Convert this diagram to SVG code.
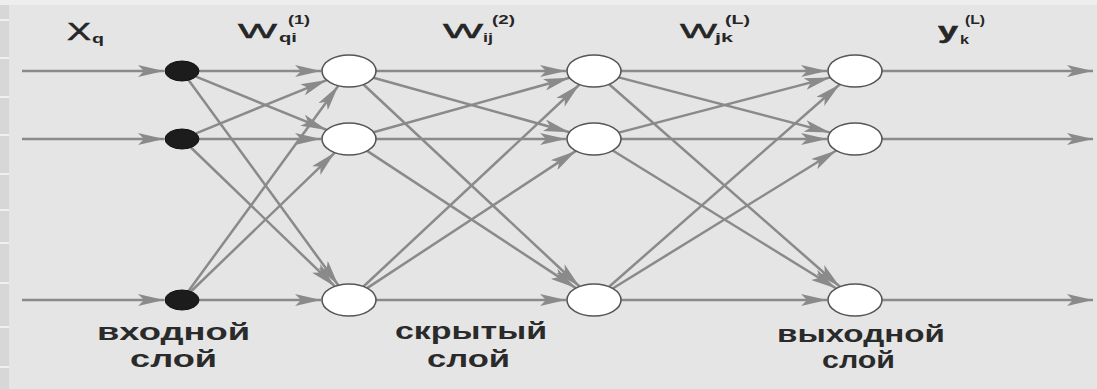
<svg xmlns="http://www.w3.org/2000/svg" width="1097" height="389" viewBox="0 0 1097 389">
  <style>
    .conn { stroke: #8a8a8a; stroke-width: 2.5; fill: none; marker-end: url(#arrow); }
    .inp { fill: #1c1c1c; stroke: #111; stroke-width: 1; }
    .neuron { fill: #ffffff; stroke: #555; stroke-width: 1.6; }
    .sym { font-family: "Liberation Sans", Arial, sans-serif; fill: #262626; stroke: #262626; stroke-width: 0.5; }
    .sub { font-family: "Liberation Sans", Arial, sans-serif; font-weight: bold; fill: #262626; }
    .layer { font-family: "Liberation Sans", Arial, sans-serif; font-weight: bold; font-size: 23px; fill: #2a2a2a; }
  </style>
  <defs>
    <marker id="arrow" markerUnits="userSpaceOnUse" markerWidth="26" markerHeight="12" refX="26" refY="6" orient="auto">
      <path d="M0,0 L26,6 L0,12 L6,6 Z" fill="#8a8a8a"/>
    </marker>
  </defs>

  <!-- background -->
  <rect x="0" y="0" width="1097" height="389" fill="#e5e5e5"/>
  <rect x="0" y="0" width="1097" height="5" fill="#eeeeee"/>
  <g id="side-strip">
    <rect x="0" y="5" width="9" height="384" fill="#d7d7d7"/>
    <g stroke="#f0f0f0" stroke-width="2">
      <line x1="0" y1="20" x2="9" y2="20"/>
      <line x1="0" y1="58" x2="9" y2="58"/>
      <line x1="0" y1="97" x2="9" y2="97"/>
      <line x1="0" y1="135" x2="9" y2="135"/>
      <line x1="0" y1="174" x2="9" y2="174"/>
      <line x1="0" y1="210" x2="9" y2="210"/>
      <line x1="0" y1="243" x2="9" y2="243"/>
      <line x1="0" y1="283" x2="9" y2="283"/>
      <line x1="0" y1="327" x2="9" y2="327"/>
      <line x1="0" y1="367" x2="9" y2="367"/>
    </g>
  </g>

  <!-- connectors -->
  <g id="connectors">
    <!-- inputs -->
    <line class="conn" x1="22" y1="71" x2="164" y2="71"/>
    <line class="conn" x1="22" y1="139" x2="164" y2="139"/>
    <line class="conn" x1="22" y1="300" x2="164" y2="300"/>
    <!-- input layer to hidden layer 1 -->
    <line class="conn" x1="199" y1="71" x2="321" y2="71"/>
    <line class="conn" x1="196" y1="76.7" x2="326.7" y2="129.9"/>
    <line class="conn" x1="188.7" y1="80.2" x2="338.3" y2="285.3"/>
    <line class="conn" x1="196" y1="133.3" x2="326.7" y2="80.1"/>
    <line class="conn" x1="199" y1="139" x2="321" y2="139"/>
    <line class="conn" x1="190.9" y1="147.5" x2="334.9" y2="286.4"/>
    <line class="conn" x1="188.7" y1="290.8" x2="338.3" y2="85.7"/>
    <line class="conn" x1="190.9" y1="291.5" x2="334.9" y2="152.6"/>
    <line class="conn" x1="199" y1="300" x2="321" y2="300"/>
    <!-- hidden layer 1 to hidden layer 2 -->
    <line class="conn" x1="376" y1="71" x2="566" y2="71"/>
    <line class="conn" x1="373.5" y1="77.8" x2="569.5" y2="132.2"/>
    <line class="conn" x1="363.5" y1="84.5" x2="579.5" y2="286.5"/>
    <line class="conn" x1="373.5" y1="132.2" x2="569.5" y2="77.8"/>
    <line class="conn" x1="376" y1="139" x2="566" y2="139"/>
    <line class="conn" x1="367.1" y1="150.9" x2="575.9" y2="288.1"/>
    <line class="conn" x1="363.5" y1="286.5" x2="579.5" y2="84.5"/>
    <line class="conn" x1="367.1" y1="288.1" x2="575.9" y2="150.9"/>
    <line class="conn" x1="376" y1="300" x2="566" y2="300"/>
    <!-- hidden layer 2 to output layer -->
    <line class="conn" x1="621" y1="71" x2="827" y2="71"/>
    <line class="conn" x1="618.7" y1="77.4" x2="830.3" y2="132.6"/>
    <line class="conn" x1="609.1" y1="84.3" x2="839.9" y2="286.7"/>
    <line class="conn" x1="618.7" y1="132.6" x2="830.3" y2="77.4"/>
    <line class="conn" x1="621" y1="139" x2="827" y2="139"/>
    <line class="conn" x1="612.7" y1="150.5" x2="836.3" y2="288.5"/>
    <line class="conn" x1="609.1" y1="286.7" x2="839.9" y2="84.3"/>
    <line class="conn" x1="612.7" y1="288.5" x2="836.3" y2="150.5"/>
    <line class="conn" x1="621" y1="300" x2="827" y2="300"/>
    <!-- outputs -->
    <line class="conn" x1="882" y1="71" x2="1093" y2="71"/>
    <line class="conn" x1="882" y1="139" x2="1093" y2="139"/>
    <line class="conn" x1="882" y1="300" x2="1093" y2="300"/>
  </g>

  <!-- input layer -->
  <g id="in-1"><ellipse class="inp" cx="182" cy="71" rx="17" ry="10"/></g>
  <g id="in-2"><ellipse class="inp" cx="182" cy="139" rx="17" ry="10"/></g>
  <g id="in-3"><ellipse class="inp" cx="182" cy="300" rx="17" ry="10"/></g>

  <!-- hidden layer 1 -->
  <g id="h1-1"><ellipse class="neuron" cx="349" cy="71" rx="27" ry="16"/></g>
  <g id="h1-2"><ellipse class="neuron" cx="349" cy="139" rx="27" ry="16"/></g>
  <g id="h1-3"><ellipse class="neuron" cx="349" cy="300" rx="27" ry="16"/></g>

  <!-- hidden layer 2 -->
  <g id="h2-1"><ellipse class="neuron" cx="594" cy="71" rx="27" ry="16"/></g>
  <g id="h2-2"><ellipse class="neuron" cx="594" cy="139" rx="27" ry="16"/></g>
  <g id="h2-3"><ellipse class="neuron" cx="594" cy="300" rx="27" ry="16"/></g>

  <!-- output layer -->
  <g id="out-1"><ellipse class="neuron" cx="855" cy="71" rx="27" ry="16"/></g>
  <g id="out-2"><ellipse class="neuron" cx="855" cy="139" rx="27" ry="16"/></g>
  <g id="out-3"><ellipse class="neuron" cx="855" cy="300" rx="27" ry="16"/></g>

  <!-- symbols above the layers -->
  <g id="symbols">
    <text class="sym" x="67" y="40" font-size="23" textLength="24" lengthAdjust="spacingAndGlyphs">X</text>
    <text class="sub" x="92" y="43" font-size="13" textLength="12" lengthAdjust="spacingAndGlyphs">q</text>

    <text class="sym" x="238" y="38" font-size="21" textLength="39" lengthAdjust="spacingAndGlyphs">W</text>
    <text class="sub" x="279" y="42" font-size="13" textLength="18" lengthAdjust="spacingAndGlyphs">qi</text>
    <text class="sub" x="288" y="24" font-size="13" textLength="22" lengthAdjust="spacingAndGlyphs">(1)</text>

    <text class="sym" x="443" y="38" font-size="21" textLength="40" lengthAdjust="spacingAndGlyphs">W</text>
    <text class="sub" x="483" y="42" font-size="13" textLength="10" lengthAdjust="spacingAndGlyphs">ij</text>
    <text class="sub" x="492" y="24" font-size="13" textLength="23" lengthAdjust="spacingAndGlyphs">(2)</text>

    <text class="sym" x="680" y="38" font-size="21" textLength="37" lengthAdjust="spacingAndGlyphs">W</text>
    <text class="sub" x="715" y="42" font-size="13" textLength="18" lengthAdjust="spacingAndGlyphs">jk</text>
    <text class="sub" x="725" y="24" font-size="13" textLength="25" lengthAdjust="spacingAndGlyphs">(L)</text>

    <text class="sym" x="938" y="38" font-size="22" font-weight="bold" textLength="20" lengthAdjust="spacingAndGlyphs">y</text>
    <text class="sub" x="960" y="44" font-size="13" textLength="9" lengthAdjust="spacingAndGlyphs">k</text>
    <text class="sub" x="965" y="24" font-size="13" textLength="20" lengthAdjust="spacingAndGlyphs">(L)</text>
  </g>

  <!-- layer captions -->
  <g id="captions">
    <text class="layer" x="97" y="340" textLength="153" lengthAdjust="spacingAndGlyphs">входной</text>
    <text class="layer" x="130" y="367" textLength="87" lengthAdjust="spacingAndGlyphs">слой</text>
    <text class="layer" x="395" y="339" textLength="152" lengthAdjust="spacingAndGlyphs">скрытый</text>
    <text class="layer" x="427" y="367" textLength="83" lengthAdjust="spacingAndGlyphs">слой</text>
    <text class="layer" x="777" y="342" textLength="168" lengthAdjust="spacingAndGlyphs">выходной</text>
    <text class="layer" x="822" y="368" textLength="73" lengthAdjust="spacingAndGlyphs">слой</text>
  </g>
</svg>
